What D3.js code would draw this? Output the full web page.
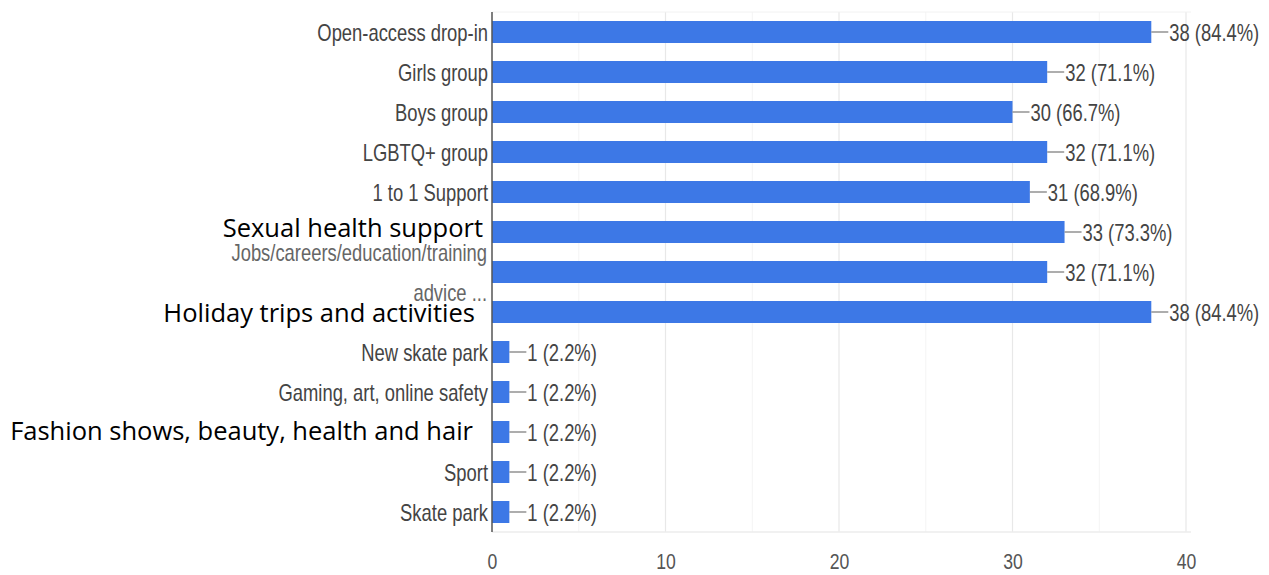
<!DOCTYPE html>
<html>
<head>
<meta charset="utf-8">
<script src="https://cdn.jsdelivr.net/npm/d3@7"></script>
<style>
  html, body { margin: 0; padding: 0; background: #fff; }
  svg { display: block; }
</style>
</head>
<body>
<svg id="chart" width="1269" height="575"></svg>
<script>
const categories = [
  "Open-access drop-in",
  "Girls group",
  "Boys group",
  "LGBTQ+ group",
  "1 to 1 Support",
  "Sexual health support",
  "Jobs/careers/education/training advice ...",
  "Holiday trips and activities",
  "New skate park",
  "Gaming, art, online safety",
  "Fashion shows, beauty, health and hair",
  "Sport",
  "Skate park"
];
const counts = [38, 32, 30, 32, 31, 33, 32, 38, 1, 1, 1, 1, 1];
const percents = ["84.4%", "71.1%", "66.7%", "71.1%", "68.9%", "73.3%", "71.1%", "84.4%", "2.2%", "2.2%", "2.2%", "2.2%", "2.2%"];
const xTicks = [0, 10, 20, 30, 40];
const xMinorTicks = [5, 15, 25, 35];
// labels that appear typed over the chart in a different (black) font
const overlayLabels = ["Sexual health support", "Holiday trips and activities", "Fashion shows, beauty, health and hair"];
const wrappedLabels = { "Jobs/careers/education/training advice ...": ["Jobs/careers/education/training", "advice ..."] };

(function () {
const svg = d3.select("#chart");
const mLeft = 492, mRight = 1186, mTop = 12, mBottom = 532;
const FONT = "'Liberation Sans', Arial, sans-serif";
const FS = 23, SX = 0.8;

const x = d3.scaleLinear().domain([0, 40]).range([mLeft, mRight]);
const y = d3.scaleBand().domain(categories).range([mTop, mBottom]).paddingInner(0.45).paddingOuter(0.225);
const cyOf = c => y(c) + y.bandwidth() / 2;

const data = categories.map((c, i) => ({ cat: c, v: counts[i], p: percents[i] }));

// condensed text helper
function ctext(parent, tx, ty, str, anchor, fill) {
  return parent.append("text")
    .attr("transform", `translate(${tx},${ty}) scale(${SX},1)`)
    .attr("text-anchor", anchor)
    .attr("font-family", FONT)
    .attr("font-size", FS)
    .attr("fill", fill)
    .text(str);
}

// gridlines
svg.append("g").selectAll("line").data(xMinorTicks).join("line")
  .attr("x1", d => x(d)).attr("x2", d => x(d))
  .attr("y1", mTop).attr("y2", mBottom)
  .attr("stroke", "#f4f4f4").attr("stroke-width", 1);
svg.append("g").selectAll("line").data(xTicks.slice(1)).join("line")
  .attr("x1", d => x(d)).attr("x2", d => x(d))
  .attr("y1", mTop).attr("y2", mBottom)
  .attr("stroke", "#e8e8e8").attr("stroke-width", 1.2);
// plot border bottom/top
svg.append("line").attr("x1", mLeft).attr("x2", mRight + 5).attr("y1", mBottom).attr("y2", mBottom)
  .attr("stroke", "#ececec").attr("stroke-width", 1.5);
svg.append("line").attr("x1", mLeft).attr("x2", mRight + 5).attr("y1", mTop).attr("y2", mTop)
  .attr("stroke", "#f2f2f2").attr("stroke-width", 1);

// bars
svg.append("g").selectAll("rect").data(data).join("rect")
  .attr("x", x(0))
  .attr("y", d => y(d.cat))
  .attr("width", d => x(d.v) - x(0))
  .attr("height", y.bandwidth())
  .attr("fill", "#3d78e6");

// leader lines and value labels
const vg = svg.append("g");
vg.selectAll("line").data(data).join("line")
  .attr("x1", d => x(d.v)).attr("x2", d => x(d.v) + 17)
  .attr("y1", d => cyOf(d.cat))
  .attr("y2", d => cyOf(d.cat))
  .attr("stroke", "#777").attr("stroke-width", 1.2);
data.forEach(d => ctext(vg, x(d.v) + 18, cyOf(d.cat) + 9, `${d.v} (${d.p})`, "start", "#444"));

// y axis line
const yAxis = d3.axisLeft(y).tickSize(0).tickFormat(() => "");
const ya = svg.append("g").attr("transform", `translate(${mLeft},0)`).call(yAxis);
ya.select(".domain").attr("stroke", "#555").attr("stroke-width", 1.5).attr("d", `M0,${mTop}V${mBottom}`);

// category labels
const offsets = { "Sexual health support": [9, 5], "Holiday trips and activities": [17, 9.5], "Fashion shows, beauty, health and hair": [19, 8] };
const lg = svg.append("g");
data.forEach(d => {
  const cy = cyOf(d.cat);
  if (overlayLabels.includes(d.cat)) {
    const o = offsets[d.cat];
    lg.append("text")
      .attr("x", x(0) - o[0])
      .attr("y", cy + o[1])
      .attr("text-anchor", "end")
      .attr("font-family", "'Open Sans', 'Noto Sans', sans-serif")
      .attr("font-size", 25.5)
      .attr("fill", "#000")
      .text(d.cat);
  } else if (wrappedLabels[d.cat]) {
    const lines = wrappedLabels[d.cat];
    ctext(lg, x(0) - 5, cy - 11, lines[0], "end", "#666");
    ctext(lg, x(0) - 5, cy + 29, lines[1], "end", "#666");
  } else {
    ctext(lg, x(0) - 4, cy + 9, d.cat, "end", "#444");
  }
});

// x axis
const xAxis = d3.axisBottom(x).tickValues(xTicks).tickSize(0).tickPadding(0).tickFormat(d3.format("d"));
const xa = svg.append("g").attr("transform", `translate(0,${mBottom})`).call(xAxis);
xa.select(".domain").remove();
xa.selectAll("text")
  .attr("y", 37).attr("dy", null)
  .attr("transform", `scale(${SX},1)`)
  .attr("font-family", FONT)
  .attr("font-size", 22)
  .attr("fill", "#555");
})();
</script>
</body>
</html>
